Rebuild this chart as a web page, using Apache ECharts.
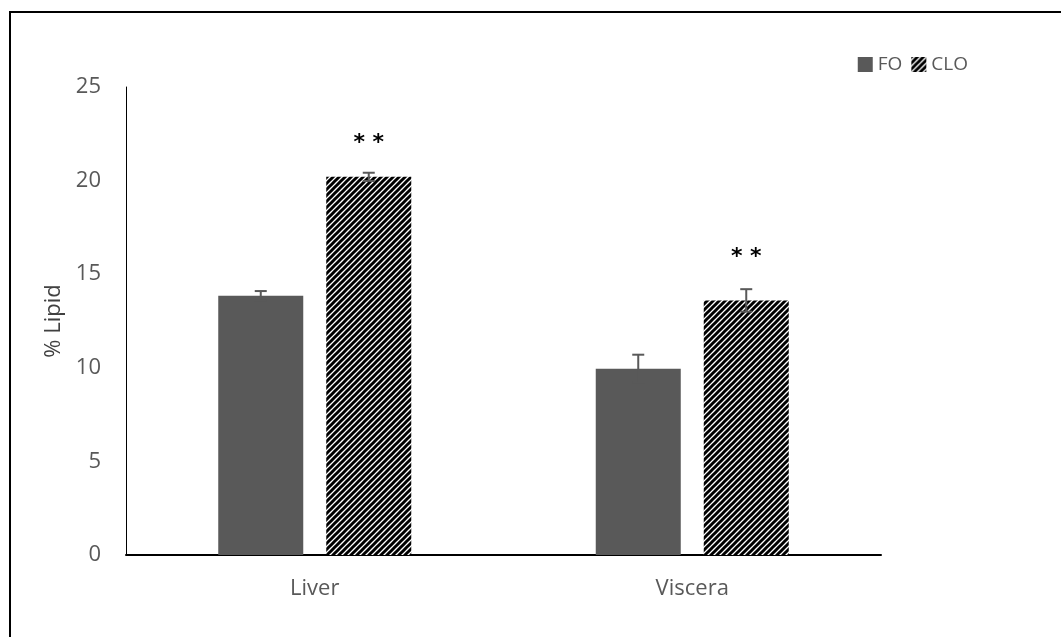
<!DOCTYPE html>
<html>
<head>
<meta charset="utf-8">
<script src="https://cdn.jsdelivr.net/npm/echarts@6/dist/echarts.min.js"></script>
<style>
html,body{margin:0;padding:0;background:#fff;}
#frame{position:absolute;left:9px;top:11px;width:1100px;height:700px;border:2px solid #000;box-sizing:border-box;}
#chart{position:absolute;left:0;top:0;width:1061px;height:637px;}
</style>
</head>
<body>
<div id="frame"></div>
<div id="chart"></div>
<script>
const categories = ['Liver', 'Viscera'];
const seriesNames = ['FO', 'CLO'];
const foValues = [13.85, 9.95];
const cloValues = [20.2, 13.6];
const foErrors = [0.25, 0.75];
const cloErrors = [0.22, 0.6];
const sigLabels = ['**', '**'];
const sigLevels = [22.0, 15.9];
const yTicks = [0, 5, 10, 15, 20, 25];

function makeHatch() {
  const s = 6;
  const c = document.createElement('canvas');
  c.width = s; c.height = s;
  const ctx = c.getContext('2d');
  ctx.fillStyle = '#fff';
  ctx.fillRect(0, 0, s, s);
  ctx.strokeStyle = '#000';
  ctx.lineWidth = 3;
  ctx.beginPath();
  ctx.moveTo(-s, 2 * s); ctx.lineTo(2 * s, -s);
  ctx.moveTo(-s, s); ctx.lineTo(s, -s);
  ctx.moveTo(0, 2 * s); ctx.lineTo(2 * s, 0);
  ctx.stroke();
  return c;
}
const hatch = makeHatch();

const chart = echarts.init(document.getElementById('chart'), null, {renderer: 'canvas'});
const BAR_W = 85, GAP = 23;
const font = '"Open Sans", sans-serif';

function errSeries(values, errors, side) {
  return {
    type: 'custom',
    silent: true,
    z: 5,
    data: values.map((v, i) => [i, v, errors[i]]),
    renderItem: function (params, api) {
      const x = api.value(0), v = api.value(1), e = api.value(2);
      const off = side * (BAR_W + GAP) / 2;
      const p1 = api.coord([x, v - e]);
      const p2 = api.coord([x, v + e]);
      const cx = p1[0] + off;
      const cap = 6;
      const st = {stroke: '#595959', lineWidth: 2};
      return {
        type: 'group',
        children: [
          {type: 'line', shape: {x1: cx, y1: p1[1], x2: cx, y2: p2[1]}, style: st},
          {type: 'line', shape: {x1: cx - cap, y1: p2[1], x2: cx + cap, y2: p2[1]}, style: st},
          {type: 'line', shape: {x1: cx - cap, y1: p1[1], x2: cx + cap, y2: p1[1]}, style: st}
        ]
      };
    }
  };
}

chart.setOption({
  animation: false,
  backgroundColor: 'transparent',
  grid: {left: 126, right: 180, top: 87, bottom: 82},
  legend: {
    right: 88, top: 50,
    itemWidth: 15, itemHeight: 15, itemGap: 9,
    textStyle: {color: '#595959', fontSize: 19, fontFamily: font},
    data: [
      {name: 'FO', icon: 'rect'},
      {name: 'CLO', icon: 'rect'}
    ]
  },
  xAxis: {
    type: 'category',
    data: categories,
    axisLine: {lineStyle: {color: '#000', width: 2}},
    axisTick: {show: false},
    axisLabel: {color: '#595959', fontSize: 22, fontFamily: font, margin: 23}
  },
  yAxis: {
    type: 'value',
    min: yTicks[0], max: yTicks[yTicks.length - 1], interval: 5,
    name: '% Lipid',
    nameLocation: 'middle',
    nameGap: 56,
    nameTextStyle: {color: '#404040', fontSize: 22, fontFamily: font},
    axisLine: {show: true, lineStyle: {color: '#000', width: 1}},
    axisTick: {show: false},
    splitLine: {show: false},
    axisLabel: {color: '#595959', fontSize: 22, fontFamily: font, margin: 25}
  },
  series: [
    {
      name: seriesNames[0], type: 'bar', data: foValues,
      barWidth: BAR_W, barGap: (GAP / BAR_W * 100) + '%',
      itemStyle: {color: '#595959'}
    },
    {
      name: seriesNames[1], type: 'bar', data: cloValues,
      barWidth: BAR_W,
      itemStyle: {color: {image: hatch, repeat: 'repeat'}}
    },
    errSeries(foValues, foErrors, -1),
    errSeries(cloValues, cloErrors, 1),
    {
      type: 'custom', silent: true, z: 6,
      data: sigLevels.map((v, i) => [i, v, sigLabels[i]]),
      renderItem: function (params, api) {
        const p = api.coord([api.value(0), api.value(1)]);
        return {
          type: 'text',
          style: {
            x: p[0] + (BAR_W + GAP) / 2, y: p[1],
            text: sigLabels[params.dataIndex].split('').join(' '),
            fill: '#000', font: 'bold 22px "DejaVu Sans", sans-serif',
            textAlign: 'center', textVerticalAlign: 'middle'
          }
        };
      }
    }
  ]
});
</script>
</body>
</html>
